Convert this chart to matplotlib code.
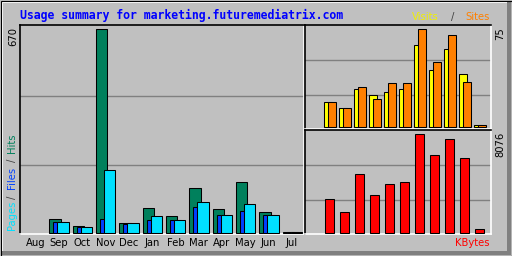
import numpy as np
import matplotlib
matplotlib.use("Agg")
import matplotlib.pyplot as plt
from matplotlib.patches import Rectangle

# monthly usage, Aug .. Jul
months = ['Aug', 'Sep', 'Oct', 'Nov', 'Dec', 'Jan', 'Feb', 'Mar', 'Apr', 'May', 'Jun', 'Jul']
hits = [0, 45, 22, 670, 32, 81, 55, 147, 78, 167, 68, 2]
files = [0, 35, 19, 45, 29, 42, 42, 84, 58, 71, 58, 1]
pages = [0, 35, 19, 206, 32, 55, 42, 101, 58, 94, 58, 1]
visits = [0, 19, 15, 29, 25, 27, 29, 63, 44, 60, 41, 2]
sites = [0, 19, 15, 31, 22, 34, 34, 75, 50, 71, 35, 2]
kbytes = [0, 2737, 1669, 4789, 3065, 3968, 4133, 8076, 6350, 7664, 6104, 274]

BG = '#C0C0C0'
HIT = '#00805C'
FILE = '#0040FF'
PAGE = '#00E0FF'
VISIT = '#FFFF00'
SITE = '#FF8000'
KB = '#FF0000'
GRID = '#808080'

W, H = 512, 256
fig = plt.figure(figsize=(W / 100, H / 100), dpi=100)
fig.patch.set_facecolor(BG)


def px_axes(x0, y0, x1, y1):
    # pixel box (top-left origin) -> axes
    return fig.add_axes([x0 / W, 1 - y1 / H, (x1 - x0) / W, (y1 - y0) / H])


# outer bevel frame
frame = fig.add_axes([0, 0, 1, 1])
frame.set_xlim(0, W)
frame.set_ylim(H, 0)
frame.axis('off')
frame.add_patch(Rectangle((0, 0), W, H, facecolor=BG, edgecolor='none'))
frame.add_patch(Rectangle((1, 1), W - 2, 2, facecolor='white', edgecolor='none'))
frame.add_patch(Rectangle((1, 1), 2, H - 2, facecolor='white', edgecolor='none'))
frame.add_patch(Rectangle((1, H - 5), W - 2, 4, facecolor=GRID, edgecolor='none'))
frame.add_patch(Rectangle((W - 5, 1), 4, H - 2, facecolor=GRID, edgecolor='none'))
frame.add_patch(Rectangle((0.5, 0.5), W - 1, H - 1, facecolor='none', edgecolor='black', lw=0.8))


def style_panel(ax):
    ax.set_facecolor(BG)
    ax.set_yticks([])
    for s in ('left', 'top'):
        ax.spines[s].set_color('black')
    for s in ('right', 'bottom'):
        ax.spines[s].set_color('white')
    for s in ax.spines.values():
        s.set_linewidth(1.2)
        s.set_zorder(1)
    for f in (0.33, 0.66):
        ax.plot([0, 1], [f, f], transform=ax.transAxes, color=GRID, lw=1.0, zorder=0.5)


lw = 0.75
x = np.arange(len(months))


def bars(ax, vals, offset, width, color, z):
    v = np.array(vals)
    m = v > 0  # empty months get no bar at all
    ax.bar(x[m] + offset, v[m], width=width, align='edge', color=color,
           edgecolor='black', lw=lw, zorder=z)


# left panel: hits / files / pages
ax = px_axes(20, 25, 304, 234)
style_panel(ax)
bars(ax, hits, 0, 0.49, HIT, 2)
bars(ax, files, 0.17, 0.49, FILE, 3)
bars(ax, pages, 0.343, 0.49, PAGE, 4)
ax.set_xlim(-0.257, 11.914)
ax.set_ylim(-4, 684)
ax.set_xticks(x + 0.4)
ax.set_xticklabels(months, fontsize=7.2, color='black')
ax.tick_params(axis='x', length=0, pad=3)

# top right: visits / sites
ax2 = px_axes(305, 25, 491, 129)
style_panel(ax2)
bars(ax2, visits, 0, 0.49, VISIT, 2)
bars(ax2, sites, 0.267, 0.49, SITE, 3)
ax2.set_xlim(-0.287, 12.11)
ax2.set_ylim(-1.3, 78.3)
ax2.set_xticks([])

# bottom right: kbytes
ax3 = px_axes(305, 130, 491, 234)
style_panel(ax3)
bars(ax3, kbytes, 0.067, 0.6, KB, 2)
ax3.set_xlim(-0.287, 12.11)
ax3.set_ylim(-107, 8432)
ax3.set_xticks([])

# texts
fig.text(20 / W, 1 - 15 / H, 'Usage summary for marketing.futuremediatrix.com',
         family='DejaVu Sans Mono', weight='bold', fontsize=8.3, color='#0000FF',
         ha='left', va='center')
fig.text(412 / W, 1 - 17 / H, 'Visits', fontsize=7.2, color='#F0F000', ha='left', va='center')
fig.text(453 / W, 1 - 17 / H, '/', fontsize=7.2, color='#404040', ha='center', va='center')
fig.text(490 / W, 1 - 17 / H, 'Sites', fontsize=7.2, color=SITE, ha='right', va='center')
fig.text(490 / W, 1 - 243 / H, 'KBytes', fontsize=7.2, color=KB, ha='right', va='center')

fig.text(13 / W, 1 - 27 / H, str(max(hits)), rotation=90, fontsize=7.2, ha='center', va='top')
fig.text(500 / W, 1 - 27 / H, str(max(sites)), rotation=90, fontsize=7.2, ha='center', va='top')
fig.text(500 / W, 1 - 132 / H, str(max(kbytes)), rotation=90, fontsize=7.2, ha='center', va='top')

for label, col, ybot in [('Pages', PAGE, 230), ('/', '#404040', 199), ('Files', FILE, 189),
                         ('/', '#404040', 162), ('Hits', HIT, 153)]:
    fig.text(12 / W, 1 - ybot / H, label, rotation=90, fontsize=7.2, color=col,
             ha='center', va='bottom')

fig.savefig('out.png', dpi=100, facecolor=fig.get_facecolor())
